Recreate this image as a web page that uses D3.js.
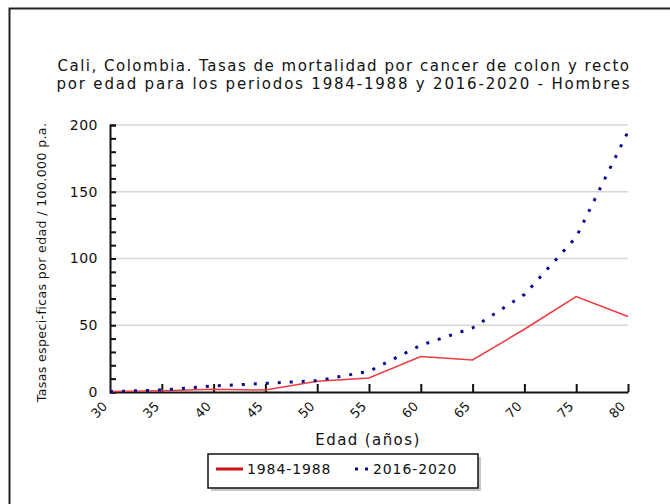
<!DOCTYPE html>
<html>
<head>
<meta charset="utf-8">
<script src="https://cdn.jsdelivr.net/npm/d3@7"></script>
<style>
  body { margin: 0; background: #fff; }
  text { font-family: "DejaVu Sans", Verdana, sans-serif; fill: #111; }
</style>
</head>
<body>
<div id="chart"></div>
<script>
// age groups (x) and rates per 100.000 p.a.
var ages = [30, 35, 40, 45, 50, 55, 60, 65, 70, 75, 80];
var rates1984 = [0.4, 1.0, 2.0, 1.5, 8.0, 10.5, 26.5, 24, 47, 71.5, 56.5];
var rates2016 = [0.3, 1.5, 4.5, 6.5, 8.5, 15.5, 35, 48, 73, 116, 195];
var seriesNames = ["1984-1988", "2016-2020"];
var yTicks = [0, 50, 100, 150, 200];
var titleLines = ["Cali, Colombia. Tasas de mortalidad por cancer de colon y recto",
                  "por edad para los periodos 1984-1988 y 2016-2020 - Hombres"];

var W = 670, H = 504;
var margin = { top: 125, right: 42, bottom: 112, left: 110 },
    width = W - margin.left - margin.right,
    height = H - margin.top - margin.bottom;

var root = d3.select("#chart").append("svg")
    .attr("width", W)
    .attr("height", H);

// outer frame (only left + top visible)
root.append("path")
    .attr("d", "M9.5," + H + "V8.5H" + W)
    .attr("fill", "none")
    .attr("stroke", "#222")
    .attr("stroke-width", 2);

// title
root.selectAll(".title").data(titleLines)
    .enter().append("text")
    .attr("x", 344)
    .attr("y", function (d, i) { return 71 + i * 18; })
    .attr("text-anchor", "middle")
    .style("font-size", "15px")
    .style("letter-spacing", function (d, i) { return i ? "1.8px" : "1.5px"; })
    .text(function (d) { return d; });

var svg = root.append("g")
    .attr("transform", "translate(" + margin.left + "," + margin.top + ")");

var x = d3.scaleLinear().domain([30, 80]).range([0, width]);
var y = d3.scaleLinear().domain([0, 200]).range([height, 0]);

// gridlines
svg.selectAll(".grid").data(yTicks.slice(1))
    .enter().append("line")
    .attr("x1", 0).attr("x2", width)
    .attr("y1", function (d) { return y(d); })
    .attr("y2", function (d) { return y(d); })
    .attr("stroke", "#d8d8d8")
    .attr("stroke-width", 1.5);

// y axis: minor ticks every 10
var yAxis = svg.append("g")
    .call(d3.axisRight(y).tickValues(d3.range(0, 201, 10)).tickSize(6).tickFormat(""));
yAxis.select(".domain").attr("stroke", "#111").attr("stroke-width", 2);
yAxis.selectAll(".tick line").attr("stroke", "#111").attr("stroke-width", 2);

svg.selectAll(".ylab").data(yTicks)
    .enter().append("text")
    .attr("x", -12)
    .attr("y", function (d) { return y(d); })
    .attr("dy", "0.35em")
    .attr("text-anchor", "end")
    .style("font-size", "14px")
    .style("letter-spacing", "0.5px")
    .text(function (d) { return d; });

// x axis: ticks pointing inward
var xAxis = svg.append("g")
    .attr("transform", "translate(0," + height + ")")
    .call(d3.axisTop(x).tickValues(ages.slice(1)).tickSize(8).tickSizeOuter(0).tickFormat(""));
xAxis.select(".domain").attr("stroke", "#111").attr("stroke-width", 2);
xAxis.selectAll(".tick line").attr("stroke", "#111").attr("stroke-width", 2);

svg.selectAll(".xlab").data(ages)
    .enter().append("text")
    .attr("transform", function (d) {
        return "translate(" + (x(d) - 5) + "," + (height + 12) + ") rotate(-45)";
    })
    .attr("text-anchor", "end")
    .attr("dy", "0.35em")
    .style("font-size", "13px")
    .text(function (d) { return d; });

// axis titles
root.append("text")
    .attr("transform", "translate(46," + (margin.top + height / 2 + 4) + ") rotate(-90)")
    .attr("text-anchor", "middle")
    .style("font-size", "12.5px")
    .style("letter-spacing", "0.4px")
    .text("Tasas especi-ficas por edad / 100.000 p.a.");

root.append("text")
    .attr("x", 368)
    .attr("y", 445)
    .attr("text-anchor", "middle")
    .style("font-size", "15px")
    .style("letter-spacing", "1.4px")
    .text("Edad (años)");

// lines
var line = d3.line()
    .x(function (d, i) { return x(ages[i]); })
    .y(function (d) { return y(d); });

svg.append("path")
    .datum(rates1984)
    .attr("fill", "none")
    .attr("stroke", "#ee3b3f")
    .attr("stroke-width", 1.5)
    .attr("d", line);

svg.append("path")
    .datum(rates2016)
    .attr("fill", "none")
    .attr("stroke", "#0a0a8c")
    .attr("stroke-width", 3)
    .attr("stroke-dasharray", "3,9")
    .attr("d", line);

// legend with shadow
var lg = root.append("g").attr("transform", "translate(208,454)");
lg.append("rect").attr("x", 3).attr("y", 3).attr("width", 270).attr("height", 34).attr("fill", "#c8c8c8");
lg.append("rect").attr("x", 0).attr("y", 0).attr("width", 270).attr("height", 34)
    .attr("fill", "#fff").attr("stroke", "#111").attr("stroke-width", 1.5);
lg.append("line").attr("x1", 8).attr("x2", 35).attr("y1", 15).attr("y2", 15)
    .attr("stroke", "#cc1111").attr("stroke-width", 3);
lg.append("text").attr("x", 39).attr("y", 15).attr("dy", "0.35em")
    .style("font-size", "14px").style("letter-spacing", "0.9px").text(seriesNames[0]);
lg.append("line").attr("x1", 147).attr("x2", 162).attr("y1", 15).attr("y2", 15)
    .attr("stroke", "#0a0a8c").attr("stroke-width", 3).attr("stroke-dasharray", "3,7");
lg.append("text").attr("x", 165).attr("y", 15).attr("dy", "0.35em")
    .style("font-size", "14px").style("letter-spacing", "0.9px").text(seriesNames[1]);
</script>
</body>
</html>
